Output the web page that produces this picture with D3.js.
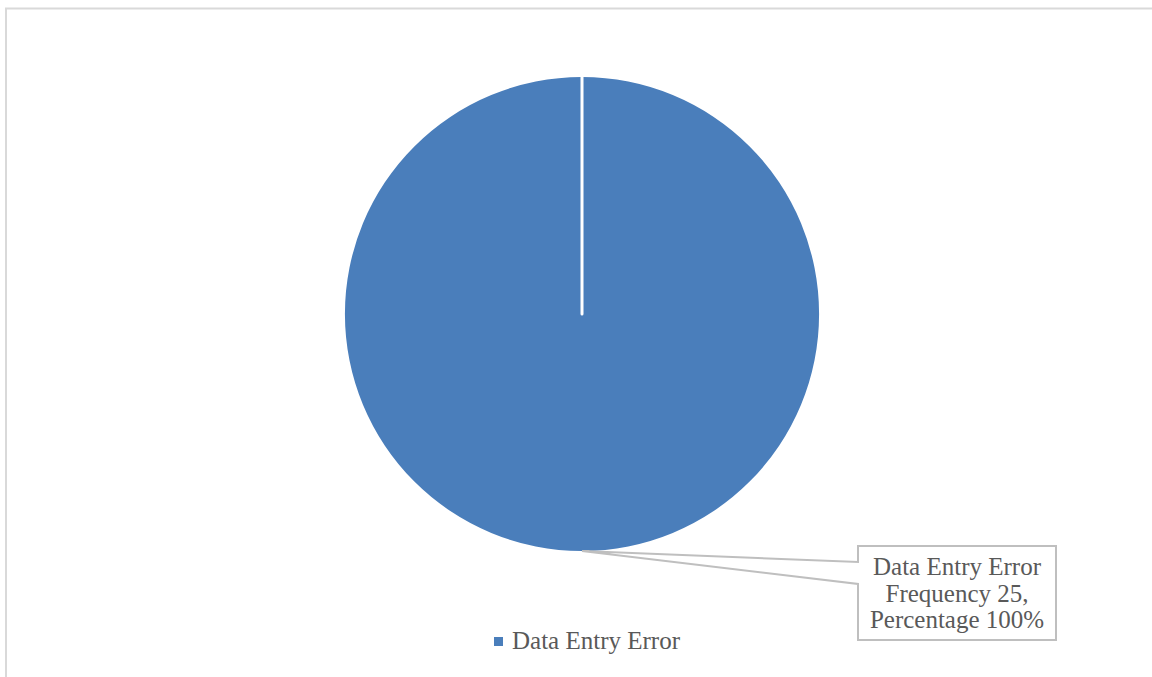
<!DOCTYPE html>
<html>
<head>
<meta charset="utf-8">
<script src="https://cdn.jsdelivr.net/npm/d3@7"></script>
<style>
  html, body { margin: 0; padding: 0; background: #fff; }
  svg { display: block; }
</style>
</head>
<body>
<script>
// Error categories and their counts
const categories = ["Data Entry Error"];
const frequencies = [25];
const percentages = [100];

const W = 1152, H = 677;
const svg = d3.select("body").append("svg").attr("width", W).attr("height", H);

// chart area frame
svg.append("rect")
  .attr("x", 6).attr("y", 8.5).attr("width", W + 10).attr("height", H + 10)
  .attr("fill", "#fff").attr("stroke", "#d9d9d9").attr("stroke-width", 2);

const cx = 582, cy = 314, r = 237;
const color = d3.scaleOrdinal().domain(categories).range(["#4a7ebb"]);
const font = "'Liberation Serif', 'Times New Roman', serif";
const textColor = "#595959";

const data = categories.map((c, i) => ({ name: c, freq: frequencies[i], pct: percentages[i] }));
const pie = d3.pie().value(d => d.freq).sort(null);
const arcs = pie(data);
const arc = d3.arc().innerRadius(0).outerRadius(r);

const g = svg.append("g").attr("transform", `translate(${cx},${cy})`);
g.selectAll("path.slice").data(arcs).enter().append("path")
  .attr("class", "slice")
  .attr("d", arc)
  .attr("fill", d => color(d.data.name));

// radial slice edges (white outline)
arcs.forEach(a => {
  const p = d3.pointRadial(a.startAngle, r);
  g.append("line")
    .attr("x1", 0).attr("y1", 0).attr("x2", p[0]).attr("y2", p[1])
    .attr("stroke", "#fff").attr("stroke-width", 3).attr("stroke-linecap", "round");
});

// callout label for the slice
const box = { x: 858, y: 546, w: 198, h: 94 };
const mid = (arcs[0].startAngle + arcs[0].endAngle) / 2;
const tip = d3.pointRadial(mid, r).map((v, i) => v + (i ? cy : cx));
const callout = [
  [box.x, box.y], [box.x + box.w, box.y], [box.x + box.w, box.y + box.h],
  [box.x, box.y + box.h], [box.x, box.y + 38], tip, [box.x, box.y + 16]
];
svg.append("path")
  .attr("d", d3.line()(callout) + "Z")
  .attr("fill", "#fff").attr("stroke", "#bfbfbf").attr("stroke-width", 2);

const lines = [
  data[0].name,
  `Frequency ${data[0].freq},`,
  `Percentage ${data[0].pct}%`
];
svg.append("text")
  .attr("font-family", font).attr("font-size", 25).attr("fill", textColor)
  .attr("text-anchor", "middle")
  .selectAll("tspan").data(lines).enter().append("tspan")
  .attr("x", box.x + box.w / 2)
  .attr("y", (d, i) => 575 + i * 26.5)
  .text(d => d);

// legend
const legend = svg.append("g");
legend.append("rect").attr("x", 494).attr("y", 637).attr("width", 9).attr("height", 9)
  .attr("fill", color(categories[0]));
legend.append("text").attr("x", 512).attr("y", 649)
  .attr("font-family", font).attr("font-size", 25).attr("fill", textColor)
  .text(categories[0]);
</script>
</body>
</html>
